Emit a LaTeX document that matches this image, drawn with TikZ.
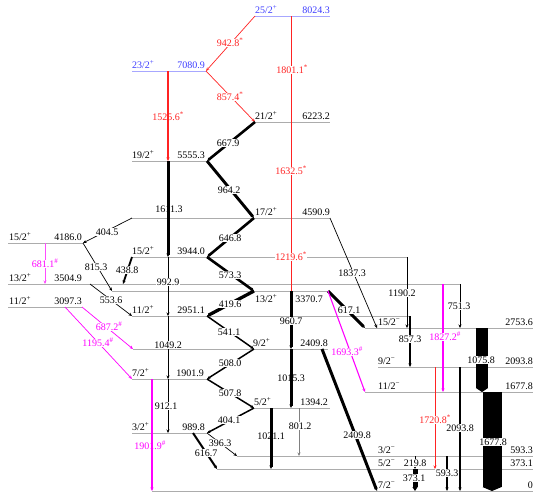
\documentclass[tikz,border=0pt]{standalone}
\usepackage{fontspec}
\setmainfont{Liberation Serif}
\usetikzlibrary{arrows.meta}
\definecolor{trred}{RGB}{255,35,35}
\definecolor{trpink}{RGB}{255,0,255}
\definecolor{lvblue}{RGB}{60,60,255}
\newcommand{\spin}[2]{#1/2\textsuperscript{#2}}

\begin{document}
\begin{tikzpicture}[x=1pt, y=-1pt, >={Stealth[length=3.5pt,width=3pt]},
    every node/.style={font=\fontsize{10}{12}\selectfont},
    lev/.style={draw=gray!65, line width=0.6pt},
    tr/.style={->, line width=0.7pt},
    trm/.style={->, line width=1.5pt},
    trk/.style={->, line width=2.6pt},
    fat/.style={line width=#1, -{Triangle[length=4pt,width=#1]}},
    tl/.style={fill=white, inner sep=0.3pt, text height=7pt, text depth=0pt},
    nf/.style={tl, fill=none}]
  \useasboundingbox (0,0) rectangle (533,493);

  % Draw the levels
  \foreach \n/\xa/\xb/\y in {8024/255/330/16, 7081/132/206/71, 6223/255/330/122,
      5555/132/207/161, 4591/132/330/218, 4186/8/83/243, 3944/132/407/257,
      3505/8/460/284, 3371/112/328/291, 3097/8/82/307, 2951/132/410/316,
      2754/365/533/328, 2410/133/328/349, 2094/378/533/367, 1902/132/207/379,
      1678/365/533/392, 1394/254/330/408, 990/132/207/433, 593/237/533/456,
      373/217/533/469, 0/152/533/491}
  {
    \coordinate (e\n-l) at (\xa,\y);
    \coordinate (e\n-r) at (\xb,\y);
    \draw[lev] (e\n-l) -- (e\n-r);
  }
  \draw[lev, draw=lvblue!45] (e8024-l) -- (e8024-r);
  \draw[lev, draw=lvblue!45] (e7081-l) -- (e7081-r);

  % Spin and energy of each level
  \foreach \n/\sx/\ex/\ly/\sj/\en/\c in {
      8024/255/330/13.5/{\spin{25}{+}}/8024.3/lvblue,
      7081/132/205/68.5/{\spin{23}{+}}/7080.9/lvblue,
      6223/255/330/119.5/{\spin{21}{+}}/6223.2/black,
      5555/132/205/158.5/{\spin{19}{+}}/5555.3/black,
      4591/255/330/215.5/{\spin{17}{+}}/4590.9/black,
      4186/9/82/240.5/{\spin{15}{+}}/4186.0/black,
      3944/132/205/254.5/{\spin{15}{+}}/3944.0/black,
      3505/9/82/281.5/{\spin{13}{+}}/3504.9/black,
      3371/255/323/302/{\spin{13}{+}}/3370.7/black,
      3097/9/82/304.5/{\spin{11}{+}}/3097.3/black,
      2951/132/205/313.5/{\spin{11}{+}}/2951.1/black,
      2754/378/533/325.5/{\spin{15}{−}}/2753.6/black,
      2410/253/328/346.5/{\spin{9}{+}}/2409.8/black,
      2094/378/533/364.5/{\spin{9}{−}}/2093.8/black,
      1902/132/204/376.5/{\spin{7}{+}}/1901.9/black,
      1678/378/533/389.5/{\spin{11}{−}}/1677.8/black,
      1394/254/328/405.5/{\spin{5}{+}}/1394.2/black,
      990/132/205/430.5/{\spin{3}{+}}/989.8/black,
      593/378/533/453.5/{\spin{3}{−}}/593.3/black,
      373/378/533/466.5/{\spin{5}{−}}/373.1/black,
      0/378/533/488.5/{\spin{7}{−}}/0/black}
  {
    \node[anchor=base west, inner sep=0pt, text=\c] (s\n) at (\sx,\ly) {\sj};
    \node[anchor=base east, inner sep=0pt, text=\c] (en\n) at (\ex,\ly) {\en};
  }

  % Columns of the vertical transitions
  \foreach \n/\x in {zl/207, zr/254, cA/168, cR/291, k1021/271, k801/299,
      k1190/407, k857/410, k751/460, k1827/443, k1720/435, k2094/460,
      k593/447, k220/415, k1076/482, k1678/492, k1902/152, k681/45,
      k617/193, k439/123, k554/90, k1195/65, k2410/322, k2410b/377, k1837/377}
    \coordinate (\n) at (\x,0);

  % Draw the new (red) transitions
  \draw[tr, trred] (e8024-l) -- (e7081-r);
  \draw[tr, trred] (e7081-r) -- (e6223-l);
  \draw[trk, trred] (cA |- e7081-l) -- (cA |- e5555-l);
  \draw[trred, line width=0.7pt] (cR |- e8024-l) -- (cR |- e6223-l);
  \draw[trred, line width=0.7pt] (cR |- e6223-l) -- (cR |- e4591-l);
  \draw[trred, line width=0.7pt] (cR |- e4591-l) -- (cR |- e3371-l);
  \draw[tr, trred, line width=0.5pt] (k1720 |- e2094-l) -- (k1720 |- e373-l);

  % Draw the zigzag band
  \draw[trk] (e6223-l) -- (zl |- e5555-l);
  \draw[trk, line width=2.9pt] (zl |- e5555-l) -- (zr |- e4591-l);
  \draw[trk] (zr |- e4591-l) -- (zl |- e3944-l);
  \draw[trk] (zl |- e3944-l) -- (zr |- e3371-l);
  \draw[trk, line width=3.3pt] (zr |- e3371-l) -- (zl |- e2951-l);
  \draw[trm] (zl |- e2951-l) -- (zr |- e2410-l);
  \draw[trm] (zr |- e2410-l) -- (zl |- e1902-l);
  \draw[trm] (zl |- e1902-l) -- (zr |- e1394-l);
  \draw[trm] (zr |- e1394-l) -- (zl |- e990-l);
  \draw[tr] (zl |- e990-l) -- (e593-l);
  \draw[trm, line width=2pt] (k617 |- e990-l) -- (e373-l);

  % Draw the left band
  \draw[trk, line width=3pt] (cA |- e5555-l) -- (cA |- e3944-l);
  \draw[tr] (cA |- e3944-l) -- (cA |- e2951-l);
  \draw[tr] (cA |- e2951-l) -- (cA |- e1902-l);
  \draw[tr] (cA |- e1902-l) -- (cA |- e990-l);
  \draw[tr] (e4591-l) -- (e4186-r);
  \draw[tr] (e4186-r) -- (e3371-l);
  \draw[trm, line width=1.8pt] (e3944-l) -- (k439 |- e3505-l);
  \draw[tr] (k554 |- e3505-l) -- (e2951-l);

  % Draw the middle band
  \draw[trk, line width=3pt] (cR |- e3371-l) -- (cR |- e2410-l);
  \draw[trk, line width=3pt] (cR |- e2410-l) -- (cR |- e1394-l);
  \draw[trk, line width=3pt] (k1021 |- e1394-l) -- (k1021 |- e373-l);
  \draw[tr, gray] (k801 |- e1394-l) -- (k801 |- e593-l);
  \draw[trk, line width=3pt] (k2410 |- e2410-l) -- (k2410b |- e0-l);

  % Draw the negative parity band
  \draw[trk, line width=3pt] (e3371-r) -- (e2754-l);
  \draw[tr] (e4591-r) -- (k1837 |- e2754-l);
  \draw[tr, line width=1pt] (k1190 |- e3944-l) -- (k1190 |- e2754-l);
  \draw[tr] (k751 |- e3505-l) -- (k751 |- e2754-l);
  \draw[trm] (k857 |- e2951-l) -- (k857 |- e2094-l);
  \draw[trm, line width=1.8pt] (k2094 |- e2094-l) -- (k2094 |- e0-l);
  \draw[trm] (k593 |- e593-l) -- (k593 |- e0-l);
  \draw[tr] (k220 |- e593-l) -- (k220 |- e373-l);
  \draw[fat=5pt] (k220 |- e373-l) -- (k220 |- e0-l);
  \draw[fat=12pt] (k1076 |- e2754-l) -- (k1076 |- e1678-l);
  \draw[fat=19pt] (k1678 |- e1678-l) -- (k1678 |- e0-l);

  % Draw the pink transitions
  \draw[tr, trpink!70, line width=0.5pt] (k681 |- e4186-l) -- (k681 |- e3505-l);
  \draw[tr, trpink] (e3097-r) -- (e2410-l);
  \draw[tr, trpink] (k1195 |- e3097-l) -- (e1902-l);
  \draw[trm, trpink, line width=1.8pt] (k1902 |- e1902-l) -- (k1902 |- e0-l);
  \draw[tr, trpink, line width=1.1pt] (e3371-r) -- (e1678-l);
  \draw[trm, trpink, line width=1.8pt] (k1827 |- e3505-l) -- (k1827 |- e1678-l);

  % Labels of the transitions
  \foreach \n/\x/\y/\t in {9428/230/43/942.8, 8574/230/97/857.4, 18011/292/70/1801.1,
      16325/291/171/1632.5, 12196/291/257/1219.6, 17208/435/420/1720.8}
    \node[tl, text=trred] (t\n) at (\x,\y) {\t\textsuperscript{*}};
  \node[nf, text=trred] (t15256) at (168,117) {1525.6\textsuperscript{*}};
  \foreach \n/\x/\y/\t in {6811/45/264/681.1, 6872/109/327/687.2, 11954/98/343/1195.4,
      16933/347/352/1693.3, 18272/445/337/1827.2}
    \node[tl, text=trpink] (t\n) at (\x,\y) {\t\textsuperscript{\#}};
  \node[nf, text=trpink] (t19019) at (150,446) {1901.9\textsuperscript{\#}};
  \foreach \n/\x/\y/\t in {6679/228/143/667.9, 9642/229/190/964.2, 6468/230/238/646.8,
      5733/230/275/573.3, 4196/230/304/419.6, 5411/229/332/541.1, 5080/230/363/508.0,
      5078/230/393/507.8, 4041/229/420/404.1, 3963/220/443/396.3, 6167/206/453/616.7,
      9929/168/282/992.9, 10492/168/345/1049.2, 9121/166/406/912.1, 4045/107/232/404.5,
      8153/96/267/815.3, 4388/127/270/438.8, 5536/111/300/553.6, 8012/300/426/801.2,
      24098/357/435/2409.8, 6171/349/310/617.1, 18373/352/273/1837.3, 11902/402/293/1190.2,
      7513/459/306/751.3, 8573/410/339/857.3, 20938/460/428/2093.8, 5933/447/473/593.3,
      2198/415/463/219.8, 3731/414/478/373.1, 10758/481/360/1075.8, 16778/493/442/1677.8,
      9607/291/321/960.7}
    \node[tl] (t\n) at (\x,\y) {\t};
  \foreach \n/\x/\y/\t in {16113/169/209/1611.3, 10153/291/378/1015.3,
      10211/271/436/1021.1}
    \node[nf] (t\n) at (\x,\y) {\t};
\end{tikzpicture}
\end{document}
